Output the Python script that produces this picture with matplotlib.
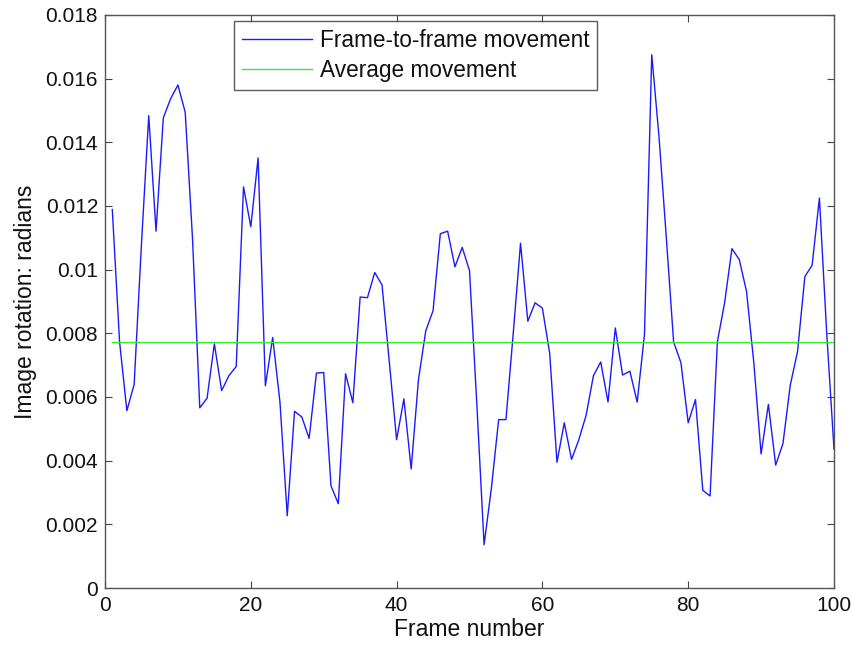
import matplotlib
matplotlib.use("Agg")
import matplotlib.pyplot as plt
import numpy as np

plt.rcParams['font.family'] = ['Liberation Sans', 'DejaVu Sans']

frames = list(range(1, 101))
movement = [
    0.01189, 0.00773, 0.00557, 0.00640, 0.01080, 0.01484, 0.01121, 0.01477, 0.01537, 0.01580,
    0.01495, 0.01100, 0.00566, 0.00596, 0.00767, 0.00620, 0.00667, 0.00696, 0.01260, 0.01135,
    0.01351, 0.00635, 0.00787, 0.00584, 0.00227, 0.00555, 0.00537, 0.00470, 0.00675, 0.00677,
    0.00321, 0.00265, 0.00673, 0.00582, 0.00914, 0.00912, 0.00991, 0.00952, 0.00710, 0.00466,
    0.00594, 0.00374, 0.00655, 0.00808, 0.00871, 0.01113, 0.01121, 0.01009, 0.01070, 0.00997,
    0.00580, 0.00136, 0.00313, 0.00529, 0.00529, 0.00800, 0.01083, 0.00838, 0.00896, 0.00879,
    0.00737, 0.00395, 0.00519, 0.00404, 0.00466, 0.00543, 0.00667, 0.00710, 0.00584, 0.00817,
    0.00669, 0.00681, 0.00584, 0.00796, 0.01675, 0.01416, 0.01100, 0.00773, 0.00708, 0.00519,
    0.00592, 0.00307, 0.00289, 0.00773, 0.00897, 0.01066, 0.01032, 0.00932, 0.00708, 0.00421,
    0.00577, 0.00386, 0.00454, 0.00637, 0.00743, 0.00978, 0.01014, 0.01225, 0.00800, 0.00437,
]
average_movement = 0.00773

x_ticks = [0, 20, 40, 60, 80, 100]
y_ticks = [0, 0.002, 0.004, 0.006, 0.008, 0.01, 0.012, 0.014, 0.016, 0.018]
y_tick_labels = ['0', '0.002', '0.004', '0.006', '0.008', '0.01', '0.012', '0.014', '0.016', '0.018']

fig = plt.figure(figsize=(8.53, 6.46), dpi=100)
ax = fig.add_axes([105/853, 1-588/646, (834-105)/853, (588-15)/646])

ax.plot(frames, movement, color='#1a1aff', lw=1.0, label='Frame-to-frame movement')
ax.plot([frames[0], frames[-1]], [average_movement, average_movement],
        color='#33ee33', lw=1.0, label='Average movement')

ax.set_xlim(0, 100)
ax.set_ylim(0, 0.018)
ax.set_xticks(x_ticks)
ax.set_yticks(y_ticks)
ax.set_yticklabels(y_tick_labels)
ax.tick_params(direction='in', top=True, right=True, length=5, width=0.8,
               labelsize=15, colors='#444444', labelcolor='#111111')
ax.tick_params(axis='x', pad=6)
ax.tick_params(axis='y', pad=5)
for s in ax.spines.values():
    s.set_color('#555555')
    s.set_linewidth(1.0)

ax.set_xlabel('Frame number', fontsize=16.5, labelpad=2, color='#111111')
ax.set_ylabel('Image rotation: radians', fontsize=16.5, labelpad=6, color='#111111')

leg = ax.legend(loc='upper left', bbox_to_anchor=((234-105)/729, 1-(21-15)/573),
                fontsize=16.3, frameon=True, fancybox=False, edgecolor='#333333',
                handlelength=3.1, handletextpad=0.35, borderaxespad=0, borderpad=0.35,
                labelspacing=0.3)
leg.get_frame().set_linewidth(1.0)
for t in leg.get_texts():
    t.set_color('#111111')

fig.savefig('out.png', dpi=100)
